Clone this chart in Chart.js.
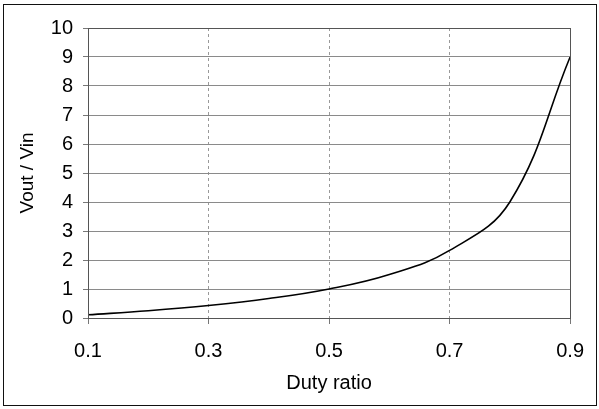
<!DOCTYPE html>
<html lang="en">
<head>
  <meta charset="UTF-8" />
  <title>Vout / Vin vs duty ratio</title>
  <script src="https://cdn.jsdelivr.net/npm/chart.js"></script>
  <style>
    body {
      margin: 0;
      background: #fff;
      font-family: 'Liberation Sans', Arial, sans-serif;
    }
    #frame {
      position: absolute;
      left: 3px;
      top: 4px;
      width: 592px;
      height: 400px;
      border: 1.5px solid #111;
    }
    #wrap {
      position: absolute;
      left: 0;
      top: 0;
      width: 599px;
      height: 409px;
    }
  </style>
</head>
<body>
  <div id="frame"></div>
  <div id="wrap"><canvas id="chart" width="599" height="409"></canvas></div>

  <script>
    // duty ratio D and the resulting gain Vout/Vin
    const duty = [0.1, 0.2, 0.3, 0.4, 0.5, 0.6, 0.7, 0.8, 0.9];
    const gain = [0.11, 0.25, 0.43, 0.67, 1.0, 1.5, 2.33, 4.0, 9.0];
    const xTicks = [0.1, 0.3, 0.5, 0.7, 0.9];
    const yTicks = [0, 1, 2, 3, 4, 5, 6, 7, 8, 9, 10];

    const font = { family: "'Liberation Sans', Arial, sans-serif", size: 20 };
    const titleFont = { family: "'Liberation Sans', Arial, sans-serif", size: 19 };

    // box around the plot area
    const plotBox = {
      id: 'plotBox',
      afterDraw(chart) {
        const a = chart.chartArea;
        const c = chart.ctx;
        c.save();
        c.strokeStyle = '#555';
        c.lineWidth = 1;
        c.strokeRect(Math.round(a.left) + 0.5, Math.round(a.top) + 0.5,
          Math.round(a.right - a.left), Math.round(a.bottom - a.top));
        c.restore();
      }
    };

    new Chart(document.getElementById('chart'), {
      type: 'line',
      data: {
        datasets: [{
          data: duty.map((d, i) => ({ x: d, y: gain[i] })),
          borderColor: '#000',
          borderWidth: 1.6,
          pointRadius: 0,
          tension: 0.4,
          fill: false
        }]
      },
      options: {
        responsive: false,
        animation: false,
        layout: { padding: { left: 12, right: 23, top: 28, bottom: 10 } },
        plugins: { legend: { display: false }, tooltip: { enabled: false } },
        scales: {
          x: {
            type: 'linear',
            min: 0.1,
            max: 0.9,
            afterBuildTicks: s => { s.ticks = xTicks.map(v => ({ value: v })); },
            afterFit: s => { s.height = 81; },
            ticks: {
              color: '#000',
              font: font,
              padding: 15,
              callback: v => v.toFixed(1)
            },
            grid: {
              color: ctx => (ctx.tick && (ctx.tick.value === 0.1 || ctx.tick.value === 0.9)) ? 'rgba(0,0,0,0)' : '#999',
              tickColor: '#777',
              tickLength: 6
            },
            border: { display: false, dash: [3, 3] },
            title: {
              display: true,
              text: 'Duty ratio',
              color: '#000',
              font: font,
              padding: { top: 0, bottom: 4 }
            }
          },
          y: {
            min: 0,
            max: 10,
            afterBuildTicks: s => { s.ticks = yTicks.map(v => ({ value: v })); },
            afterFit: s => { s.width = 76; },
            ticks: { color: '#000', font: font, padding: 10 },
            grid: {
              color: '#8a8a8a',
              tickColor: '#777',
              tickLength: 5
            },
            border: { display: false },
            title: {
              display: true,
              text: 'Vout / Vin',
              color: '#000',
              font: titleFont,
              padding: { top: 4, bottom: 0 }
            }
          }
        }
      },
      plugins: [plotBox]
    });
  </script>
</body>
</html>
